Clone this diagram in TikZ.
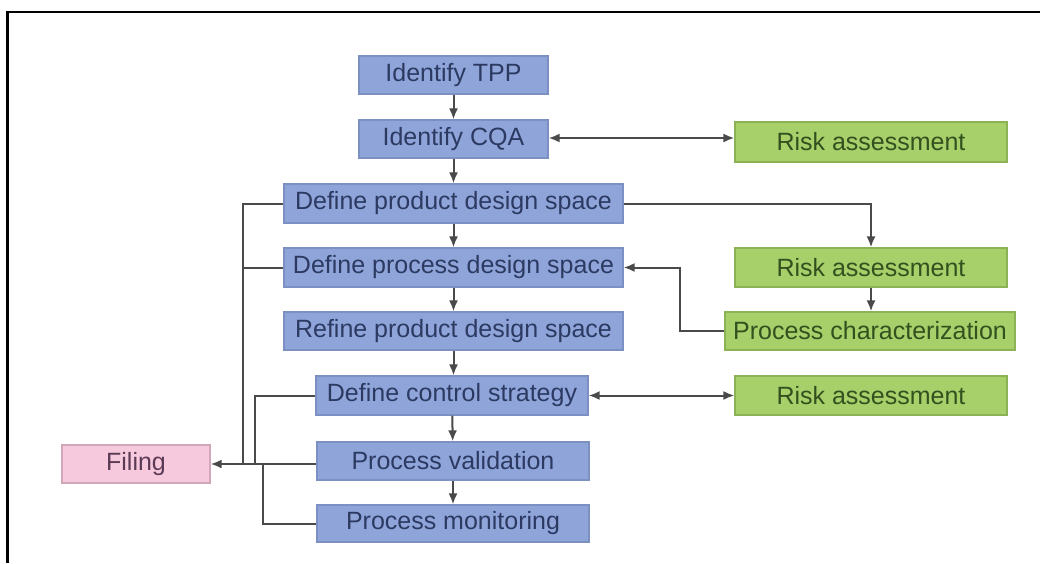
\documentclass[tikz,border=0pt]{standalone}
\usepackage{fontspec}
\setmainfont{Liberation Sans}
\usetikzlibrary{arrows.meta}

\definecolor{bluefill}{HTML}{8FA5DA}
\definecolor{blueedge}{HTML}{7C90C4}
\definecolor{bluetext}{HTML}{2C3A62}
\definecolor{greenfill}{HTML}{A8D06A}
\definecolor{greenedge}{HTML}{8DB255}
\definecolor{greentext}{HTML}{33501F}
\definecolor{pinkfill}{HTML}{F7C9DC}
\definecolor{pinkedge}{HTML}{D2A7B8}
\definecolor{pinktext}{HTML}{5B3A55}
\definecolor{wire}{HTML}{4A4A4A}

\tikzset{
  box/.style={rectangle, line width=1.2pt, inner sep=0pt, align=center,
              font=\fontsize{25}{29}\selectfont},
  bluebox/.style={box, fill=bluefill, draw=blueedge, text=bluetext},
  greenbox/.style={box, fill=greenfill, draw=greenedge, text=greentext},
  pinkbox/.style={box, fill=pinkfill, draw=pinkedge, text=pinktext},
  wireline/.style={draw=wire, line width=2pt},
  tip/.tip={Latex[length=11pt,width=9pt]},
  arr/.style={wireline, -tip},
  dblarr/.style={wireline, tip-tip},
}

\begin{document}
\begin{tikzpicture}[x=1pt,y=-1pt]
  \useasboundingbox (0,0) rectangle (1040,563);
  \fill[white] (0,0) rectangle (1040,563);

  % frame
  \draw[black, line width=2.5pt] (7.5,563) -- (7.5,12) -- (1040,12);

  % main column
  \node[bluebox, minimum width=189pt, minimum height=38pt] (tpp)  at (453.5,75)    {Identify TPP};
  \node[bluebox, minimum width=189pt, minimum height=38pt] (cqa)  at (453.5,139)   {Identify CQA};
  \node[bluebox, minimum width=339pt, minimum height=39pt] (pds)  at (453.5,203.5) {Define product design space};
  \node[bluebox, minimum width=339pt, minimum height=39pt] (prds) at (453.5,267.5) {Define process design space};
  \node[bluebox, minimum width=339pt, minimum height=38pt] (rpds) at (453.5,331)   {Refine product design space};
  \node[bluebox, minimum width=272pt, minimum height=39pt] (cs)   at (452,395.5)   {Define control strategy};
  \node[bluebox, minimum width=272pt, minimum height=38pt] (pv)   at (453,461)     {Process validation};
  \node[bluebox, minimum width=272pt, minimum height=37pt] (pm)   at (453,523.5)   {Process monitoring};

  % right column
  \node[greenbox, minimum width=272pt, minimum height=40pt] (ra1) at (871,142)   {Risk assessment};
  \node[greenbox, minimum width=272pt, minimum height=39pt] (ra2) at (871,267.5) {Risk assessment};
  \node[greenbox, minimum width=290pt, minimum height=38pt] (pc)  at (870,331)   {Process characterization};
  \node[greenbox, minimum width=272pt, minimum height=39pt] (ra3) at (871,395.5) {Risk assessment};

  % filing
  \node[pinkbox, minimum width=148pt, minimum height=38pt] (fil) at (136,464) {Filing};

  % junction points
  \coordinate (ja) at (243,464);
  \coordinate (jb) at (255,464);
  \coordinate (jc) at (263,464);
  \coordinate (jk) at (680,331);

  % downward flow
  \draw[arr] (tpp)  -- (cqa);
  \draw[arr] (cqa)  -- (pds);
  \draw[arr] (pds)  -- (prds);
  \draw[arr] (prds) -- (rpds);
  \draw[arr] (rpds.south) -- (rpds.south |- cs.north);
  \draw[arr] (cs)   -- (pv);
  \draw[arr] (pv)   -- (pm);

  % risk links
  \draw[dblarr] (cqa.east |- 0,138) -- (ra1.west |- 0,138);
  \draw[arr] (pds.east) -| (ra2.north);
  \draw[arr] (ra2.south) -- (ra2.south |- pc.north);
  \draw[arr] (pc.west) -- (jk) |- (prds.east);
  \draw[dblarr] (cs.east) -- (cs.east -| ra3.west);

  % filing links
  \draw[wireline] (pds.west) -| (ja);
  \draw[wireline] (prds.west) -- (prds.west -| ja);
  \draw[wireline] (cs.west) -| (jb);
  \draw[wireline] (pm.west) -| (jc);
  \draw[arr] (pv.west |- fil.east) -- (fil.east);
\end{tikzpicture}
\end{document}
